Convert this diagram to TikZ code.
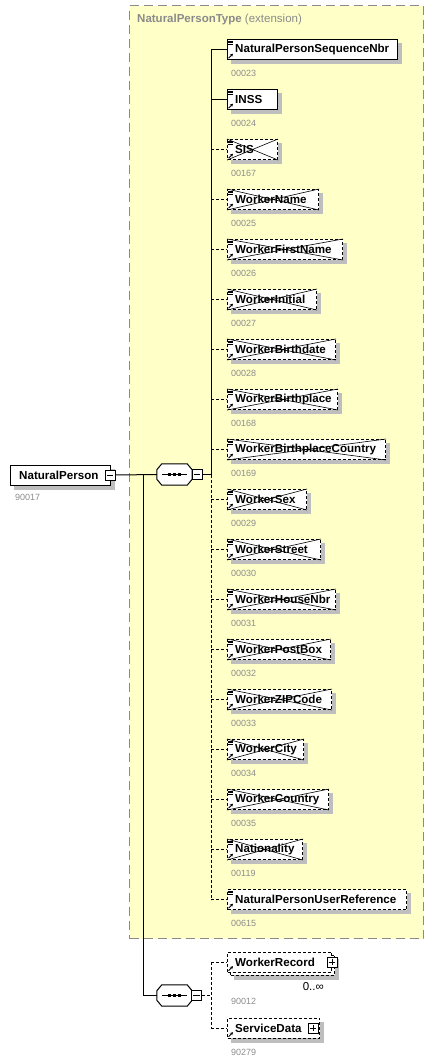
\documentclass[tikz,border=0pt]{standalone}
\usepackage{fontspec}
\setmainfont{Liberation Sans}
\usetikzlibrary{arrows.meta}
\pgfdeclarelayer{back}
\pgfdeclarelayer{shadow}
\pgfsetlayers{back,shadow,main}
\definecolor{ybg}{HTML}{FFFFC8}
\definecolor{ybd}{HTML}{8A8A8A}
\definecolor{shd}{HTML}{BEBEBE}
\definecolor{idc}{HTML}{8C8C8C}
\tikzset{
  elbox/.style={draw=black, fill=white, line width=1pt, minimum height=20pt, inner sep=0pt, anchor=west},
  optbox/.style={elbox, dash pattern=on 3pt off 2pt},
  elname/.style={font=\bfseries\fontsize{11.6}{12}\selectfont, inner sep=0pt, anchor=west},
  idlbl/.style={font=\fontsize{9}{10}\selectfont, text=idc, inner sep=0pt, anchor=west},
  conn/.style={line width=1pt},
  optconn/.style={conn, dash pattern=on 3pt off 2pt},
  btn/.style={draw=black, fill=white, line width=0.8pt, minimum size=10pt, inner sep=0pt},
  compbox/.style={draw=none, minimum width=35pt, minimum height=21pt, inner sep=0pt},
  crossline/.style={line width=0.6pt},
  iconline/.style={line width=0.7pt},
  shadowfill/.style={fill=shd, draw=none},
}
\newcommand\boxshadow[1]{%
  \begin{pgfonlayer}{shadow}
  \fill[shadowfill] ([shift={(4pt,-4pt)}]#1.south west) rectangle ([shift={(4pt,-4pt)}]#1.north east);
  \end{pgfonlayer}}
\newcommand\refarrow[1]{%
  \draw[line width=0.8pt, -{Stealth[length=3pt,width=3.2pt]}] ([xshift=1.5pt,yshift=1.8pt]#1.south west) -- ([xshift=6pt,yshift=6.3pt]#1.south west);}
\newcommand\simpleicon[1]{%
  \foreach \dy in {2,3.6,5.2} \draw[iconline] ([xshift=1pt,yshift=-\dy pt]#1.north west) -- ([xshift=5.5pt,yshift=-\dy pt]#1.north west);}
\newcommand\xelem[8]{%
  \node[#5, minimum width=#3] (#1) at (227,#2) {};
  \boxshadow{#1}
  \ifnum#7=1
    \draw[crossline] (#1.north west) -- (#1.south east) (#1.south west) -- (#1.north east);
  \fi
  \node[elname] (#1-t) at ([xshift=8pt]#1.west) {#4};
  \node[idlbl] (#1-id) at ([xshift=4pt,yshift=-13pt]#1.south west) {#6};
  \ifnum#8=1 \simpleicon{#1}\fi
  \refarrow{#1}}
\newcommand\minusbtn[2]{%
  \node[btn] (#1) at (#2) {};
  \draw[line width=0.8pt] ([xshift=2pt]#1.west) -- ([xshift=-2pt]#1.east);}
\newcommand\plusbtn[2]{%
  \node[btn] (#1) at (#2) {};
  \draw[line width=0.8pt] ([xshift=2pt]#1.west) -- ([xshift=-2pt]#1.east)
    ([yshift=-2pt]#1.north) -- ([yshift=2pt]#1.south);}
\newcommand\octpath[1]{([xshift=5pt]#1.north west) -- ([xshift=-5pt]#1.north east) -- ([yshift=-6pt]#1.north east) -- ([yshift=6pt]#1.south east) -- ([xshift=-5pt]#1.south east) -- ([xshift=5pt]#1.south west) -- ([yshift=6pt]#1.south west) -- ([yshift=-6pt]#1.north west) -- cycle}
\newcommand\compos[2]{%
  \node[compbox] (#1) at (#2) {};
  \begin{pgfonlayer}{shadow}
  \fill[shadowfill, shift={(4pt,-4pt)}] \octpath{#1};
  \end{pgfonlayer}
  \draw[line width=1pt, fill=white] \octpath{#1};
  \draw[line width=1pt] ([xshift=5pt]#1.west) -- ([xshift=-5pt]#1.east);
  \foreach \dx in {-5,0,5} \fill ([xshift=\dx pt]#1.center) +(-1.7,-1.7) rectangle +(1.7,1.7);}
\begin{document}
\begin{tikzpicture}[x=1pt,y=-1pt]
\useasboundingbox (0,0) rectangle (436,1063);
% extension frame
\begin{pgfonlayer}{back}
\node[draw=ybd, fill=ybg, line width=1pt, dash pattern=on 9pt off 5pt, minimum width=294pt, minimum height=933pt, inner sep=0pt, anchor=north west] (ext) at (129,5) {};
\end{pgfonlayer}
\node[inner sep=0pt, anchor=west, text=ybd, font=\fontsize{11.5}{12}\selectfont] (title) at (137,20) {\textbf{NaturalPersonType} (extension)};
% root element
\node[elbox, minimum width=100pt] (np) at (10,475) {};
\boxshadow{np}
\node[elname] (np-t) at ([xshift=9pt]np.west) {NaturalPerson};
\node[idlbl] (np-id) at (15,497) {90017};
\minusbtn{npb}{110,475}
% compositors
\compos{c1}{174.5,474.5}
\minusbtn{c1b}{197,474.5}
\compos{c2}{174.5,995.5}
\minusbtn{c2b}{196.5,995.5}
% junction coordinates
\coordinate (j0) at (143,475);
\coordinate (j1) at (211,474.5);
\coordinate (vtop) at (211,49.5);
\coordinate (vbot) at (211,899.5);
\coordinate (j2) at (211,995.5);
\coordinate (wtop) at (211,962);
\coordinate (wbot) at (211,1028);
% elements
\xelem{e1}{49.5}{170}{NaturalPersonSequenceNbr}{elbox}{00023}{0}{1}
\xelem{e2}{99.5}{50}{INSS}{elbox}{00024}{0}{1}
\xelem{e3}{149.5}{50}{SIS}{optbox}{00167}{1}{1}
\xelem{e4}{199.5}{91}{WorkerName}{optbox}{00025}{1}{1}
\xelem{e5}{249.5}{115}{WorkerFirstName}{optbox}{00026}{1}{1}
\xelem{e6}{299.5}{89}{WorkerInitial}{optbox}{00027}{1}{1}
\xelem{e7}{349.5}{108}{WorkerBirthdate}{optbox}{00028}{1}{1}
\xelem{e8}{399.5}{110}{WorkerBirthplace}{optbox}{00168}{1}{1}
\xelem{e9}{449.5}{158}{WorkerBirthplaceCountry}{optbox}{00169}{1}{1}
\xelem{e10}{499.5}{79}{WorkerSex}{optbox}{00029}{1}{1}
\xelem{e11}{549.5}{93}{WorkerStreet}{optbox}{00030}{1}{1}
\xelem{e12}{599.5}{108}{WorkerHouseNbr}{optbox}{00031}{1}{1}
\xelem{e13}{649.5}{103}{WorkerPostBox}{optbox}{00032}{1}{1}
\xelem{e14}{699.5}{104}{WorkerZIPCode}{optbox}{00033}{1}{1}
\xelem{e15}{749.5}{76}{WorkerCity}{optbox}{00034}{1}{1}
\xelem{e16}{799.5}{101}{WorkerCountry}{optbox}{00035}{1}{1}
\xelem{e17}{849.5}{75}{Nationality}{optbox}{00119}{1}{1}
\xelem{e18}{899.5}{179}{NaturalPersonUserReference}{optbox}{00615}{0}{1}
% WorkerRecord (multiple)
\node[optbox, minimum width=104pt] (wrb) at (230,965) {};
\boxshadow{wrb}
\node[optbox, minimum width=104pt] (wr) at (227,962) {};
\node[elname] (wr-t) at ([xshift=8pt]wr.west) {WorkerRecord};
\refarrow{wr}
\plusbtn{wrp}{332,962}
\node[inner sep=0pt, anchor=east, font=\fontsize{11.5}{12}\selectfont] (wr-m) at (324,987) {0..∞};
\node[idlbl] (wr-id) at (231,1001) {90012};
% ServiceData
\node[optbox, minimum width=92pt] (sd) at (227,1028) {};
\boxshadow{sd}
\node[elname] (sd-t) at ([xshift=8pt]sd.west) {ServiceData};
\refarrow{sd}
\plusbtn{sdp}{313,1028}
\node[idlbl] (sd-id) at (231,1052) {90279};
% connectors
\draw[conn] (npb.east) -- (c1.west);
\draw[conn] (j0) |- (c2.west);
\draw[conn] (c1b.east) -- (j1);
\draw[conn] (j1) -- (vtop);
\draw[optconn] (j1) -- (vbot);
\draw[conn] (j1 |- e1.west) -- (e1.west);
\draw[conn] (j1 |- e2.west) -- (e2.west);
\foreach \k in {3,...,18} \draw[optconn] (j1 |- e\k.west) -- (e\k.west);
\draw[optconn] (c2b.east) -- (j2);
\draw[optconn] (wtop) -- (wbot);
\draw[optconn] (wtop) -- (wr.west);
\draw[optconn] (wbot) -- (sd.west);
\end{tikzpicture}
\end{document}
